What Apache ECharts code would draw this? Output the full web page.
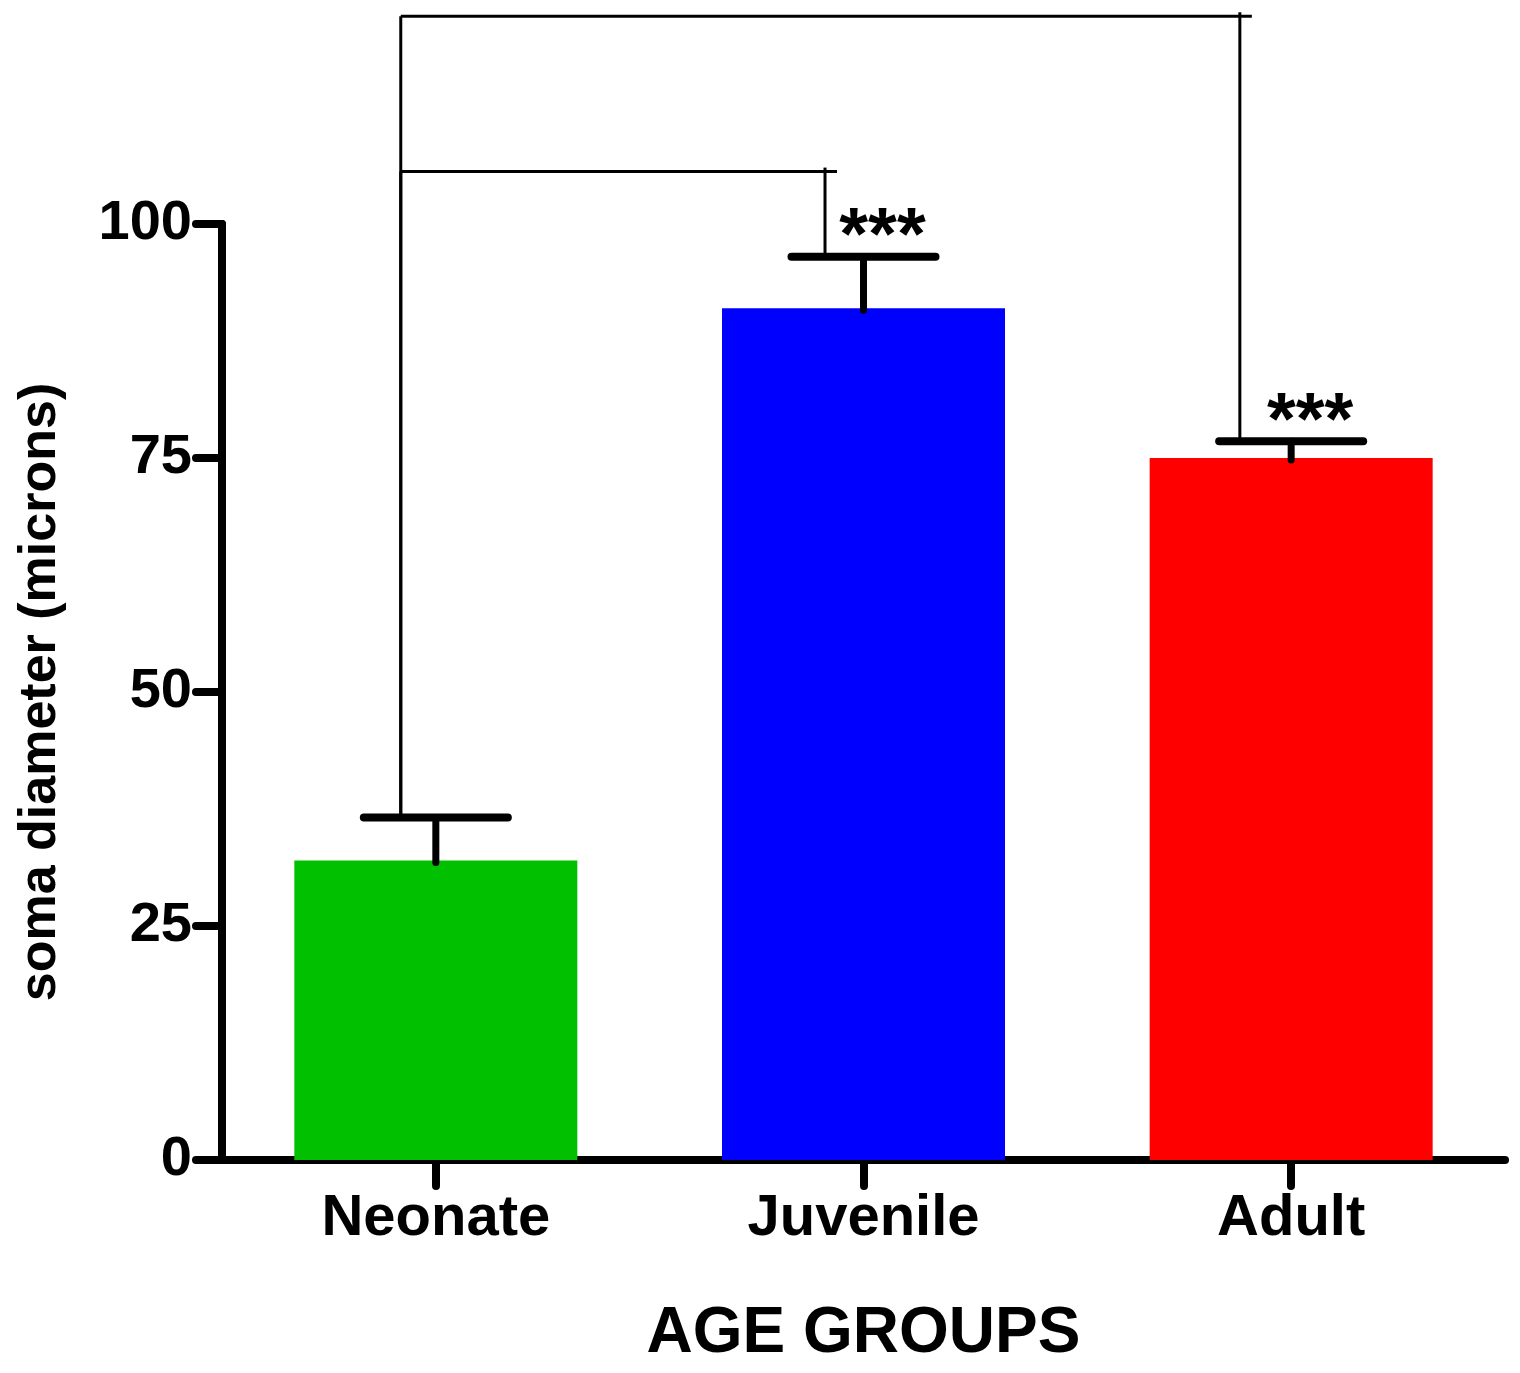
<!DOCTYPE html>
<html>
<head>
<meta charset="utf-8">
<script src="https://cdn.jsdelivr.net/npm/echarts@6/dist/echarts.min.js"></script>
<style>
html, body { margin: 0; padding: 0; background: #fff; }
#main { width: 1520px; height: 1373px; }
</style>
</head>
<body>
<div id="main"></div>
<script>
var myChart = echarts.init(document.getElementById('main'));

var groups = ['Neonate', 'Juvenile', 'Adult'];
var means = [32.0, 91.0, 75.0];
var sems = [4.6, 5.5, 1.8];
var barColors = ['#00c000', '#0000ff', '#ff0000'];
var sigMarks = ['', '***', '***'];
// [from group, to group, bracket height in axis units]
var brackets = [[0, 1, 105.6], [0, 2, 122.2]];

var FONT = '"Liberation Sans", Arial, sans-serif';

var barData = means.map(function (v, i) {
    return { value: v, itemStyle: { color: barColors[i] } };
});
var errData = means.map(function (v, i) {
    return [i, v, sems[i]];
});

option = {
    backgroundColor: '#fff',
    animation: false,
    grid: {
        left: 222,
        right: 15,
        top: 224,
        bottom: 213
    },
    xAxis: {
        type: 'category',
        data: groups,
        name: 'AGE GROUPS',
        nameLocation: 'middle',
        nameGap: 142,
        nameTextStyle: { fontFamily: FONT, fontWeight: 'bold', fontSize: 64, color: '#000' },
        axisLine: { lineStyle: { color: '#000', width: 8, cap: 'round' } },
        axisTick: { show: true, alignWithLabel: true, length: 26, lineStyle: { color: '#000', width: 8, cap: 'round' } },
        axisLabel: { fontFamily: FONT, fontWeight: 'bold', fontSize: 58, color: '#000', margin: 30 }
    },
    yAxis: {
        type: 'value',
        min: 0,
        max: 100,
        interval: 25,
        name: 'soma diameter (microns)',
        nameLocation: 'middle',
        nameGap: 155,
        nameTextStyle: { fontFamily: FONT, fontWeight: 'bold', fontSize: 52, color: '#000' },
        axisLine: { show: true, lineStyle: { color: '#000', width: 8, cap: 'round' } },
        axisTick: { show: true, length: 26, lineStyle: { color: '#000', width: 8, cap: 'round' } },
        axisLabel: { fontFamily: FONT, fontWeight: 'bold', fontSize: 56, color: '#000', margin: 30 },
        splitLine: { show: false }
    },
    series: [
        {
            type: 'bar',
            data: barData,
            barWidth: 283,
            z: 2
        },
        {
            // error bars (upper only) with significance stars
            type: 'custom',
            data: errData,
            z: 3,
            clip: false,
            renderItem: function (params, api) {
                var i = api.value(0);
                var base = api.coord([i, api.value(1)]);
                var top = api.coord([i, api.value(1) + api.value(2)]);
                var half = 72;
                var children = [
                    { type: 'line', shape: { x1: base[0], y1: base[1] + 2, x2: top[0], y2: top[1] },
                      style: { stroke: '#000', lineWidth: 7, lineCap: 'round' } },
                    { type: 'line', shape: { x1: top[0] - half, y1: top[1], x2: top[0] + half, y2: top[1] },
                      style: { stroke: '#000', lineWidth: 8, lineCap: 'round' } }
                ];
                var mark = sigMarks[params.dataIndex];
                if (mark) {
                    children.push({
                        type: 'text',
                        style: {
                            text: mark, x: top[0] + 19, y: top[1] + 19,
                            align: 'center', verticalAlign: 'bottom',
                            font: 'bold 74px ' + FONT, fill: '#000'
                        }
                    });
                }
                return { type: 'group', children: children };
            }
        },
        {
            // comparison brackets
            type: 'custom',
            data: brackets,
            z: 1,
            clip: false,
            renderItem: function (params, api) {
                var a = api.value(0), b = api.value(1), lvl = api.value(2);
                var band = api.size([1, 0])[0];
                var pa = api.coord([a, means[a] + sems[a]]);
                var pb = api.coord([b, means[b] + sems[b]]);
                var yl = api.coord([a, lvl])[1];
                var xa = pa[0] - band * 0.082;
                var xb = pb[0] - band * (b === 2 ? 0.12 : 0.09);
                return {
                    type: 'group',
                    children: [
                        { type: 'line', shape: { x1: xa, y1: yl, x2: xa, y2: pa[1] - 3 },
                          style: { stroke: '#000', lineWidth: 3 } },
                        { type: 'line', shape: { x1: xa, y1: yl, x2: xb + 12, y2: yl },
                          style: { stroke: '#000', lineWidth: 3 } },
                        { type: 'line', shape: { x1: xb, y1: yl - 4, x2: xb, y2: pb[1] - 3 },
                          style: { stroke: '#000', lineWidth: 3 } }
                    ]
                };
            }
        }
    ]
};
myChart.setOption(option);
</script>
</body>
</html>
